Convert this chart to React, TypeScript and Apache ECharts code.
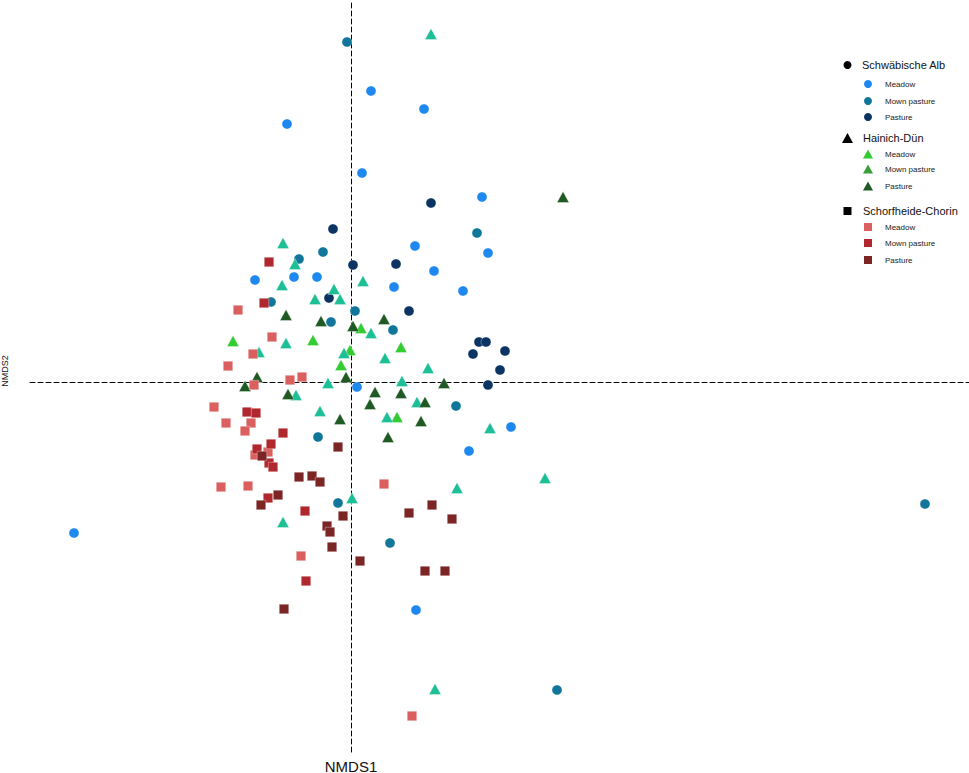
import React, { useEffect, useRef } from "react";
import * as echarts from "echarts";

type Pt = [number, number];

// NMDS scores (NMDS1, NMDS2)
const albMeadow: Pt[] = [
  [-0.32, 1.29], [0.1, 1.455], [0.365, 1.365], [0.055, 1.045], [0.655, 0.925], [0.32, 0.68],
  [0.685, 0.645], [-0.48, 0.51], [-0.285, 0.525], [-0.17, 0.525], [0.415, 0.555], [0.215, 0.475],
  [0.56, 0.455], [0.03, -0.025], [0.8, -0.225], [0.59, -0.345], [-1.385, -0.755], [0.325, -1.14],
];
const albMown: Pt[] = [
  [-0.02, 1.7], [0.63, 0.745], [-0.14, 0.65], [-0.26, 0.615], [-0.4, 0.4], [-0.1, 0.3],
  [0.02, 0.355], [0.21, 0.26], [0.525, -0.12], [-0.165, -0.275], [-0.065, -0.605], [0.195, -0.805],
  [1.03, -1.54], [2.87, -0.61],
];
const albPasture: Pt[] = [
  [0.4, 0.895], [-0.09, 0.765], [0.01, 0.585], [0.225, 0.59], [-0.11, 0.42], [0.29, 0.355],
  [0.64, 0.2], [0.675, 0.2], [0.61, 0.14], [0.77, 0.155], [0.745, 0.06], [0.685, -0.015],
];
const hainichMeadow: Pt[] = [
  [-0.59, 0.205], [-0.19, 0.21], [-0.005, 0.16], [-0.05, 0.085], [0.05, 0.27], [0.25, 0.175], [0.23, -0.175],
];
const hainichMown: Pt[] = [
  [0.4, 1.74], [-0.34, 0.695], [-0.28, 0.59], [-0.345, 0.485], [-0.18, 0.415], [-0.085, 0.465],
  [-0.055, 0.415], [0.06, 0.505], [0.1, 0.245], [-0.46, 0.15], [-0.325, 0.195], [-0.035, 0.145],
  [0.17, 0.12], [0.385, 0.07], [-0.115, -0.005], [0.255, 0.005], [-0.275, -0.065], [-0.155, -0.145],
  [0.18, -0.175], [0.33, -0.1], [0.695, -0.23], [0.53, -0.53], [0.005, -0.58], [-0.34, -0.7],
  [0.97, -0.48], [0.42, -1.535],
];
const hainichPasture: Pt[] = [
  [1.06, 0.925], [-0.325, 0.335], [-0.15, 0.305], [0.01, 0.28], [0.165, 0.315], [-0.47, 0.025],
  [-0.53, -0.02], [-0.025, 0.025], [-0.315, -0.06], [0.465, -0.005], [0.12, -0.05], [0.25, -0.055],
  [0.095, -0.11], [0.37, -0.1], [0.35, -0.195], [0.185, -0.275], [-0.055, -0.185],
];
const schorfMeadow: Pt[] = [
  [-0.565, 0.36], [-0.395, 0.225], [-0.49, 0.14], [-0.615, 0.08], [-0.305, 0.01], [-0.245, 0.025],
  [-0.485, -0.015], [-0.685, -0.125], [-0.625, -0.205], [-0.5, -0.205], [-0.53, -0.245], [-0.415, -0.35],
  [-0.48, -0.365], [-0.65, -0.525], [-0.515, -0.52], [-0.25, -0.87], [0.165, -0.51], [0.305, -1.67],
];
const schorfMown: Pt[] = [
  [-0.41, 0.6], [-0.435, 0.395], [-0.52, -0.15], [-0.475, -0.155], [-0.34, -0.255], [-0.4, -0.31],
  [-0.47, -0.335], [-0.41, -0.405], [-0.39, -0.425], [-0.415, -0.58], [-0.225, -0.995], [-0.23, -0.645],
];
const schorfPasture: Pt[] = [
  [-0.445, -0.37], [-0.26, -0.475], [-0.195, -0.47], [-0.155, -0.5], [-0.365, -0.565], [-0.45, -0.615],
  [-0.04, -0.67], [-0.12, -0.72], [-0.105, -0.75], [-0.095, -0.825], [0.045, -0.895], [-0.335, -1.135],
  [0.37, -0.945], [0.47, -0.945], [0.29, -0.655], [0.405, -0.615], [0.505, -0.685], [-0.065, -0.325],
];

const sites = ["Schwäbische Alb", "Hainich-Dün", "Schorfheide-Chorin"];
const landUses = ["Meadow", "Mown pasture", "Pasture"];
const siteData: Pt[][][] = [
  [albMeadow, albMown, albPasture],
  [hainichMeadow, hainichMown, hainichPasture],
  [schorfMeadow, schorfMown, schorfPasture],
];
const plotColors = [
  ["#1E88F0", "#10769A", "#0B3463"],
  ["#33CC33", "#1DBF96", "#1F5A24"],
  ["#DC5F5F", "#B0282D", "#7B2525"],
];
const legendColors = [
  ["#1E88F0", "#10769A", "#0B3463"],
  ["#33CC33", "#3A9E3A", "#1F5A24"],
  ["#DC5F5F", "#B0282D", "#7B2525"],
];
const symbols = ["circle", "triangle", "rect"];
const symbolSizes: (number | number[])[] = [10, [12, 11], 9.5];

const FONT = "'Liberation Sans', Arial, Helvetica, sans-serif";

function legendShape(kind: number, cx: number, cy: number, size: number, color: string) {
  if (kind === 0) {
    return { type: "circle", shape: { cx, cy, r: size / 2 }, style: { fill: color } };
  }
  if (kind === 1) {
    const w = size + 1;
    const h = size;
    return {
      type: "polygon",
      shape: { points: [[cx - w / 2, cy + h / 2], [cx + w / 2, cy + h / 2], [cx, cy - h / 2]] },
      style: { fill: color },
    };
  }
  return { type: "rect", shape: { x: cx - size / 2, y: cy - size / 2, width: size, height: size }, style: { fill: color } };
}

export default function App() {
  const ref = useRef<HTMLDivElement>(null);

  useEffect(() => {
    if (!ref.current) return;
    const chart = echarts.init(ref.current, undefined, { renderer: "svg" });

    const series: any[] = [];
    sites.forEach((site, si) => {
      landUses.forEach((lu, li) => {
        series.push({
          type: "scatter",
          name: `${site} · ${lu}`,
          data: siteData[si][li],
          symbol: symbols[si],
          symbolSize: symbolSizes[si],
          itemStyle: {
            color: plotColors[si][li],
            opacity: 1,
            borderColor: "rgba(255,255,255,0.55)",
            borderWidth: 0.6,
          },
          emphasis: { disabled: true },
          z: 3,
        });
      });
    });

    const headerY = [65, 138, 211];
    const itemY = [
      [84, 101, 117],
      [154, 169, 186],
      [227, 243, 260],
    ];
    const graphics: any[] = [];
    sites.forEach((site, si) => {
      graphics.push({ ...legendShape(si, 847.5, headerY[si], si === 0 ? 8 : si === 1 ? 10 : 8, "#000") });
      graphics.push({
        type: "text",
        x: si === 0 ? 862 : 863,
        y: headerY[si],
        style: { text: site, fill: "#111", font: `11px ${FONT}`, textVerticalAlign: "middle", verticalAlign: "middle" },
      });
      landUses.forEach((lu, li) => {
        graphics.push({ ...legendShape(si, 868, itemY[si][li], si === 0 ? 8 : si === 1 ? 9 : 8, legendColors[si][li]) });
        graphics.push({
          type: "text",
          x: 885,
          y: itemY[si][li],
          style: { text: lu, fill: "#222", font: `8px ${FONT}`, verticalAlign: "middle" },
        });
      });
    });
    graphics.push({
      type: "text",
      x: 351,
      y: 766,
      style: { text: "NMDS1", fill: "#111", font: `15px ${FONT}`, align: "center", verticalAlign: "middle" },
    });
    graphics.push({
      type: "text",
      x: 5,
      y: 371,
      rotation: Math.PI / 2,
      style: { text: "NMDS2", fill: "#111", font: `9px ${FONT}`, align: "center", verticalAlign: "middle" },
    });

    const axisCommon = {
      type: "value",
      axisLine: { show: true, onZero: true, lineStyle: { color: "#000", width: 1, type: [5, 3] } },
      axisTick: { show: false },
      axisLabel: { show: false },
      splitLine: { show: false },
    };

    chart.setOption({
      animation: false,
      backgroundColor: "#ffffff",
      grid: { left: 30, right: 0, top: 0, bottom: 21, containLabel: false },
      xAxis: { ...axisCommon, min: -1.605, max: 3.09 },
      yAxis: { ...axisCommon, min: -1.85, max: 1.91 },
      series,
      graphic: graphics,
    });

    return () => chart.dispose();
  }, []);

  return <div ref={ref} style={{ width: 969, height: 773, position: "absolute", left: 0, top: 0 }} />;
}
